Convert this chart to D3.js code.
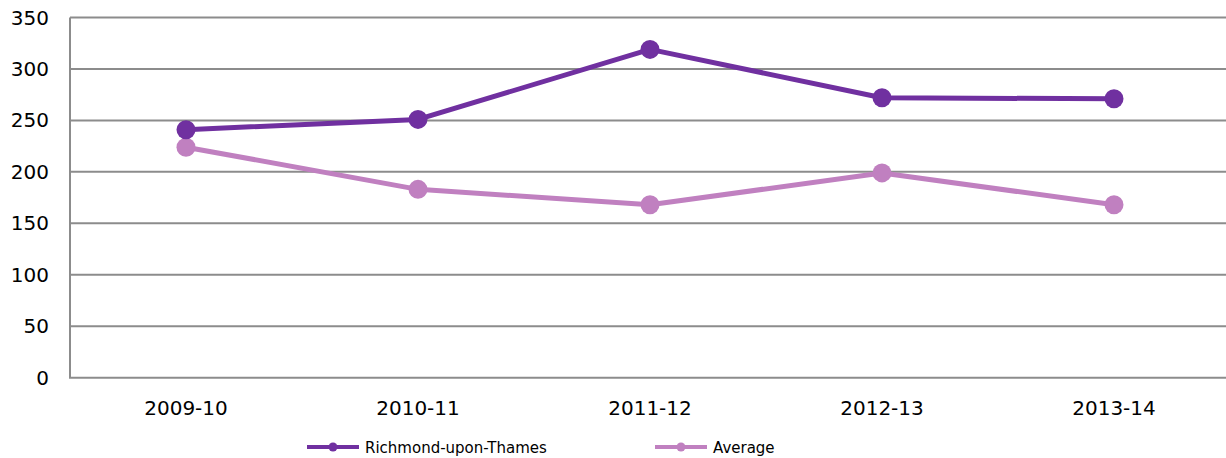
<!DOCTYPE html>
<html><head><meta charset="utf-8">
<script src="https://cdn.jsdelivr.net/npm/d3@7"></script>
<style>body{margin:0;background:#fff}svg{display:block}</style>
</head><body>
<svg id="c" width="1226" height="458"></svg>
<script>
const categories = ["2009-10","2010-11","2011-12","2012-13","2013-14"];
const richmond = [241, 251, 319, 272, 271];
const average = [224, 183, 168, 199, 168];
const yTicks = [0,50,100,150,200,250,300,350];
const seriesNames = ["Richmond-upon-Thames","Average"];
const colors = ["#7030A0","#C080C0"];

const svg = d3.select("#c");
const x = d3.scaleBand().domain(categories).range([70,1230]);
const y = d3.scaleLinear().domain([0,350]).range([377.7,17.5]);
const font = "'DejaVu Sans', Verdana, sans-serif";

svg.append("g").selectAll("line").data(yTicks.filter(d=>d>0)).join("line")
  .attr("x1",70).attr("x2",1226).attr("y1",d=>y(d)).attr("y2",d=>y(d))
  .attr("stroke","#8c8c8c").attr("stroke-width",2);
svg.append("line").attr("x1",70).attr("x2",70).attr("y1",y(350)).attr("y2",y(0)).attr("stroke","#8c8c8c").attr("stroke-width",2);
svg.append("line").attr("x1",69).attr("x2",1226).attr("y1",y(0)).attr("y2",y(0)).attr("stroke","#8c8c8c").attr("stroke-width",2);

svg.append("g").selectAll("text").data(yTicks).join("text")
  .attr("x",49).attr("y",d=>y(d)+7).attr("text-anchor","end")
  .attr("font-family",font).attr("font-size",20).attr("fill","#000").text(d=>d);
svg.append("g").selectAll("text").data(categories).join("text")
  .attr("x",d=>x(d)+x.bandwidth()/2).attr("y",415).attr("text-anchor","middle")
  .attr("font-family",font).attr("font-size",20).attr("fill","#000").text(d=>d);

const series = [richmond, average];
const line = d3.line().x((d,i)=>x(categories[i])+x.bandwidth()/2).y(d=>y(d));
[1,0].forEach(k=>{
  const g = svg.append("g");
  g.append("path").attr("d",line(series[k])).attr("fill","none").attr("stroke",colors[k]).attr("stroke-width",5).attr("stroke-linejoin","round");
  g.selectAll("circle").data(series[k]).join("circle")
    .attr("cx",(d,i)=>x(categories[i])+x.bandwidth()/2).attr("cy",d=>y(d)).attr("r",9.5).attr("fill",colors[k]);
});

const legX = [307, 655];
seriesNames.forEach((n,k)=>{
  const g = svg.append("g");
  g.append("line").attr("x1",legX[k]).attr("x2",legX[k]+52).attr("y1",447).attr("y2",447).attr("stroke",colors[k]).attr("stroke-width",4);
  g.append("circle").attr("cx",legX[k]+26).attr("cy",447).attr("r",4.5).attr("fill",colors[k]);
  g.append("text").attr("x",legX[k]+58).attr("y",452.5).attr("font-family",font).attr("font-size",15).attr("fill","#000").text(n);
});
</script>
</body></html>
